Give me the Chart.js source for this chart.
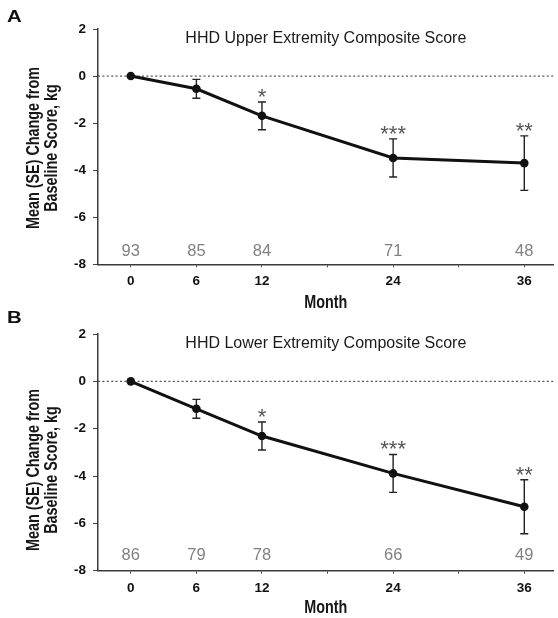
<!DOCTYPE html>
<html><head><meta charset="utf-8">
<script src="https://cdn.jsdelivr.net/npm/chart.js@4.4.1/dist/chart.umd.min.js"></script>
<style>
html,body{margin:0;padding:0;background:#fff;}
.panel{position:relative;width:558px;overflow:hidden;}
canvas{display:block;}
</style></head><body>
<div class="panel" style="height:310px"><canvas id="cA" width="558" height="310"></canvas></div>
<div class="panel" style="height:308px"><canvas id="cB" width="558" height="308"></canvas></div>
<script>
const months = [0, 6, 12, 24, 36];
const upperMean = [0, -0.54, -1.69, -3.48, -3.7];
const upperSE = [0, 0.4, 0.59, 0.81, 1.16];
const upperN = [93, 85, 84, 71, 48];
const lowerMean = [0, -1.16, -2.31, -3.89, -5.3];
const lowerSE = [0, 0.4, 0.59, 0.8, 1.14];
const lowerN = [86, 79, 78, 66, 49];
const stars = ['', '', '*', '***', '**'];
const xTickValues = [0, 6, 12, 18, 24, 30, 36];
const xTickLabels = ['0', '6', '12', '', '24', '', '36'];
const yTickValues = [-8, -6, -4, -2, 0, 2];
const titles = ['HHD Upper Extremity Composite Score', 'HHD Lower Extremity Composite Score'];
const panelLetters = ['A', 'B'];
const yTitleLines = ['Mean (SE) Change from', 'Baseline Score, kg'];
const xTitle = 'Month';

function hasFont(name){
  const c = document.createElement('canvas').getContext('2d');
  const s = 'MMMMMwwwwiiiill0123';
  c.font = 'bold 40px monospace'; const a = c.measureText(s).width;
  c.font = 'bold 40px "' + name + '", monospace'; const b = c.measureText(s).width;
  return Math.abs(a - b) > 0.5;
}
const NARROW = hasFont('Liberation Sans Narrow');
const tickFont = NARROW ? {family:'"Liberation Sans Narrow"', size:15, weight:'bold'}
                        : {family:'"Liberation Sans", Arial, sans-serif', size:13.5, weight:'bold'};

function narrowText(ctx, text, x, y, size, rotate){
  ctx.save();
  ctx.translate(x, y);
  if (rotate) ctx.rotate(-Math.PI/2);
  if (NARROW) {
    ctx.font = 'bold ' + size + 'px "Liberation Sans Narrow"';
  } else {
    ctx.font = 'bold ' + size + 'px "Liberation Sans", Arial, sans-serif';
    ctx.scale(0.82, 1);
  }
  ctx.textAlign = 'center';
  ctx.textBaseline = 'alphabetic';
  ctx.fillStyle = '#161616';
  ctx.fillText(text, 0, 0);
  ctx.restore();
}

const deco = {
  id: 'deco',
  beforeDatasetsDraw(chart, args, o){
    const {ctx, scales:{x, y}} = chart;
    ctx.save();
    ctx.strokeStyle = '#222'; ctx.lineWidth = 1.4;
    o.mean.forEach((m, i) => {
      const se = o.se[i]; if (!se) return;
      const px = x.getPixelForValue(months[i]);
      const t = y.getPixelForValue(m + se), b = y.getPixelForValue(m - se);
      ctx.beginPath();
      ctx.moveTo(px, t); ctx.lineTo(px, b);
      ctx.moveTo(px - 4, t); ctx.lineTo(px + 4, t);
      ctx.moveTo(px - 4, b); ctx.lineTo(px + 4, b);
      ctx.stroke();
    });
    ctx.restore();
  },
  afterDraw(chart, args, o){
    const {ctx, chartArea:ca, scales:{x, y}} = chart;
    const cx = (ca.left + ca.right) / 2;
    ctx.save();
    // panel letter
    ctx.save();
    ctx.translate(7, o.letterY);
    ctx.scale(1.2, 1);
    ctx.font = 'bold 17px "Liberation Sans", Arial, sans-serif';
    ctx.fillStyle = '#111'; ctx.textAlign = 'left'; ctx.textBaseline = 'alphabetic';
    ctx.fillText(o.letter, 0, 0);
    ctx.restore();
    // title
    ctx.font = '16px "Liberation Sans", Arial, sans-serif';
    ctx.fillStyle = '#1a1a1a'; ctx.textAlign = 'center'; ctx.textBaseline = 'alphabetic';
    ctx.fillText(o.title, cx, o.titleY);
    // y title
    narrowText(ctx, yTitleLines[0], 39, o.yTitleY, 17.5, true);
    narrowText(ctx, yTitleLines[1], 57, o.yTitleY, 17.5, true);
    // x title
    narrowText(ctx, xTitle, cx, o.monthY, 17.5, false);
    // n counts
    ctx.font = '16.5px "Liberation Sans", Arial, sans-serif';
    ctx.fillStyle = '#808080'; ctx.textAlign = 'center'; ctx.textBaseline = 'middle';
    o.n.forEach((n, i) => ctx.fillText(String(n), x.getPixelForValue(months[i]), ca.bottom - o.nOffset));
    // stars
    ctx.font = '22px "Liberation Sans", Arial, sans-serif';
    ctx.fillStyle = '#555'; ctx.textBaseline = 'alphabetic';
    stars.forEach((s, i) => {
      if (!s) return;
      const top = y.getPixelForValue(o.mean[i] + o.se[i]);
      ctx.fillText(s, x.getPixelForValue(months[i]), top - 7 + 9);
    });
    ctx.restore();
  }
};

function makeChart(id, mean, se, n, p){
  return new Chart(document.getElementById(id), {
    type: 'line',
    data: {
      datasets: [
        { data: months.map((m, i) => ({x: m, y: mean[i]})),
          borderColor: '#111', borderWidth: 3, pointRadius: 4.3, pointBackgroundColor: '#111',
          pointBorderWidth: 0, tension: 0, order: 0 },
        { data: [{x: -3, y: 0}, {x: 38.69, y: 0}],
          borderColor: '#555', borderWidth: 1.3, borderDash: [2, 2.4], pointRadius: 0, order: 1 }
      ]
    },
    options: {
      responsive: false, animation: false,
      layout: { padding: { top: p.top, right: 0, bottom: 0, left: 0 } },
      plugins: {
        legend: { display: false }, tooltip: { enabled: false },
        deco: { mean: mean, se: se, n: n, title: p.title, letter: p.letter, titleY: p.titleY,
                letterY: p.letterY, yTitleY: p.yTitleY, monthY: p.monthY, nOffset: p.nOffset }
      },
      scales: {
        x: {
          type: 'linear', min: -3, max: 38.69,
          afterBuildTicks: s => { s.ticks = xTickValues.map(v => ({value: v})); },
          afterFit: s => { s.height = p.xh; },
          grid: { drawOnChartArea: false, drawTicks: true, tickLength: 3, color: '#444', lineWidth: 1 },
          border: { color: '#3a3a3a', width: 1.5 },
          ticks: { font: tickFont, color: '#111', padding: 6, maxRotation: 0, autoSkip: false,
                   callback: v => { const k = xTickValues.indexOf(v); return k >= 0 ? xTickLabels[k] : ''; } }
        },
        y: {
          min: -8, max: 2,
          afterBuildTicks: s => { s.ticks = yTickValues.map(v => ({value: v})); },
          afterFit: s => { s.width = 98; },
          grid: { drawOnChartArea: false, drawTicks: true, tickLength: 5, color: '#444', lineWidth: 1 },
          border: { color: '#3a3a3a', width: 1.5 },
          ticks: { font: tickFont, color: '#111', padding: 7, callback: v => String(v) }
        }
      }
    },
    plugins: [deco]
  });
}

makeChart('cA', upperMean, upperSE, upperN,
  { top: 29, xh: 45.7, title: titles[0], letter: panelLetters[0], titleY: 42.7, letterY: 21.7,
    yTitleY: 148, monthY: 307.5, nOffset: 13 });
makeChart('cB', lowerMean, lowerSE, lowerN,
  { top: 24, xh: 47.3, title: titles[1], letter: panelLetters[1], titleY: 38.3, letterY: 12.7,
    yTitleY: 160, monthY: 303, nOffset: 15 });
</script>
</body></html>
